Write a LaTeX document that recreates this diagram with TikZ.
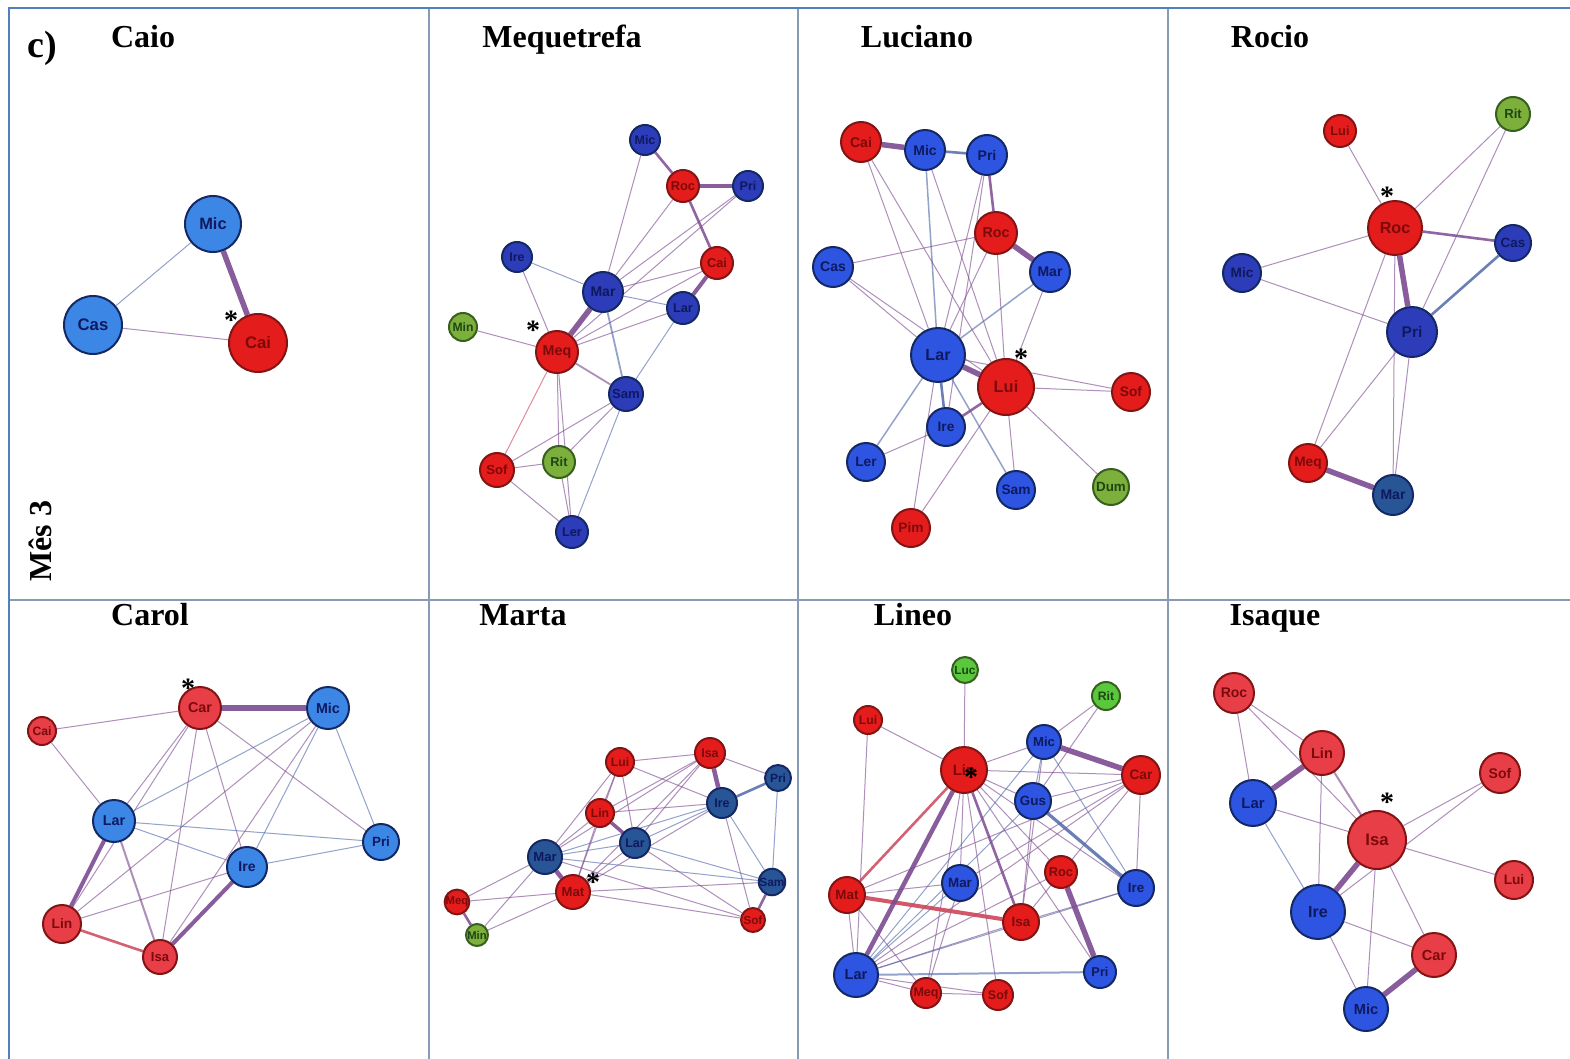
\documentclass[tikz,border=0pt]{standalone}
\usepackage{fontspec}
\setmainfont{Liberation Serif}
\setsansfont{Liberation Sans}

\definecolor{azulclaro}{RGB}{60,135,230}
\definecolor{azulreal}{RGB}{45,60,185}
\definecolor{azulaco}{RGB}{40,85,150}
\definecolor{azulvivo}{RGB}{45,85,225}
\definecolor{azulborda}{RGB}{20,40,100}
\definecolor{azultexto}{RGB}{15,25,95}
\definecolor{vermelho}{RGB}{228,28,28}
\definecolor{vermrosa}{RGB}{232,62,72}
\definecolor{vermborda}{RGB}{130,20,20}
\definecolor{vermtexto}{RGB}{125,10,10}
\definecolor{verdeoliva}{RGB}{125,175,60}
\definecolor{verdevivo}{RGB}{90,200,60}
\definecolor{verdeborda}{RGB}{55,95,30}
\definecolor{verdetexto}{RGB}{30,70,20}
\definecolor{ligroxo}{RGB}{125,75,145}
\definecolor{ligazul}{RGB}{80,105,170}
\definecolor{ligverm}{RGB}{205,70,90}
\definecolor{molduraext}{RGB}{79,129,189}
\definecolor{molduraint}{RGB}{135,155,180}

\pgfdeclarelayer{fundo}
\pgfdeclarelayer{ligacoes}
\pgfsetlayers{fundo,ligacoes,main}

\tikzset{
  pessoa/.style={circle, inner sep=0pt, line width=2pt},
  tam/.code={\pgfmathsetmacro\fsz{8+0.3*#1}%
    \tikzset{minimum size=2*#1pt, font=\sffamily\bfseries\fontsize{\fsz}{\fsz}\selectfont}},
  azul/.style={pessoa, fill=#1, draw=azulborda, text=azultexto},
  azul/.default=azulreal,
  verm/.style={pessoa, fill=#1, draw=vermborda, text=vermtexto},
  verm/.default=vermelho,
  verde/.style={pessoa, fill=#1, draw=verdeborda, text=verdetexto},
  verde/.default=verdeoliva,
  titulo/.style={font=\fontsize{32}{36}\selectfont\bfseries, anchor=base},
  marca/.style={font=\fontsize{28}{28}\selectfont\bfseries, inner sep=0pt, anchor=base},
  lig/.style={line width=1pt, draw opacity=.62},
  lroxo/.style={lig, draw=ligroxo},
  lazul/.style={lig, draw=ligazul},
  lverm/.style={lig, draw=ligverm},
  media/.style={line width=2.6pt, draw opacity=.85},
  forte/.style={line width=5.5pt, draw opacity=.9},
}

\begin{document}
\begin{tikzpicture}[x=1pt, y=-1pt]
  \useasboundingbox (0,0) rectangle (1570,1059);
  \begin{pgfonlayer}{fundo}
    \fill[white] (0,0) rectangle (1570,1059);
  \end{pgfonlayer}

  % Frame
  \draw[molduraint, line width=1.5pt] (429,8) -- (429,1059) (798,8) -- (798,1059) (1168,8) -- (1168,1059);
  \draw[molduraint, line width=1.5pt] (9,600) -- (1570,600);
  \draw[molduraext, line width=2pt] (1570,8) -- (9,8) -- (9,1059);

  % Labels
  \node[titulo, font=\fontsize{38}{40}\selectfont\bfseries] (letra) at (42,58) {c)};
  \node[titulo, rotate=90, anchor=center] (mes) at (40,541) {Mês 3};
  \node[titulo] (t-caio) at (143,48) {Caio};
  \node[titulo] (t-mequetrefa) at (562,48) {Mequetrefa};
  \node[titulo] (t-luciano) at (917,48) {Luciano};
  \node[titulo] (t-rocio) at (1270,48) {Rocio};
  \node[titulo] (t-carol) at (150,625) {Carol};
  \node[titulo] (t-marta) at (523,625) {Marta};
  \node[titulo] (t-lineo) at (913,625) {Lineo};
  \node[titulo] (t-isaque) at (1275,625) {Isaque};

  % Caio
  \node[azul=azulclaro, tam=28] (ca-mic) at (213,224) {Mic};
  \node[azul=azulclaro, tam=29] (ca-cas) at (93,325) {Cas};
  \node[verm, tam=29] (ca-cai) at (258,343) {Cai};
  \node[marca] (ca-ast) at (231,329) {*};
  \begin{pgfonlayer}{ligacoes}
    \draw[lazul] (ca-cas) -- (ca-mic);
    \draw[lroxo] (ca-cas) -- (ca-cai);
    \draw[lroxo, forte] (ca-mic) -- (ca-cai);
  \end{pgfonlayer}

  % Mequetrefa
  \node[azul, tam=15] (mq-mic) at (645,140) {Mic};
  \node[verm, tam=16] (mq-roc) at (683,186) {Roc};
  \node[azul, tam=15] (mq-pri) at (748,186) {Pri};
  \node[azul, tam=15] (mq-ire) at (517,257) {Ire};
  \node[verm, tam=16] (mq-cai) at (717,263) {Cai};
  \node[azul, tam=20] (mq-mar) at (603,292) {Mar};
  \node[azul, tam=16] (mq-lar) at (683,308) {Lar};
  \node[verde, tam=14] (mq-min) at (463,327) {Min};
  \node[verm, tam=21] (mq-meq) at (557,352) {Meq};
  \node[azul, tam=17] (mq-sam) at (626,394) {Sam};
  \node[verde, tam=16] (mq-rit) at (559,462) {Rit};
  \node[verm, tam=17] (mq-sof) at (497,470) {Sof};
  \node[azul, tam=16] (mq-ler) at (572,532) {Ler};
  \node[marca] (mq-ast) at (533,339) {*};
  \begin{pgfonlayer}{ligacoes}
    \foreach \a/\b in {mic/mar, roc/mar, pri/mar, pri/meq, cai/mar, cai/meq, ire/meq, lar/meq, min/meq,
                       meq/rit, sam/sof, sam/rit, sof/rit, sof/ler, rit/ler, meq/ler}
      \draw[lroxo] (mq-\a) -- (mq-\b);
    \foreach \a/\b in {ire/mar, mar/lar, lar/sam, sam/ler}
      \draw[lazul] (mq-\a) -- (mq-\b);
    \draw[lverm] (mq-meq) -- (mq-sof);
    \draw[lazul, line width=1.8pt] (mq-mar) -- (mq-sam);
    \draw[lroxo, line width=1.8pt] (mq-meq) -- (mq-sam);
    \draw[lroxo, media] (mq-mic) -- (mq-roc);
    \draw[lroxo, media] (mq-roc) -- (mq-cai);
    \draw[lroxo, forte, line width=4pt] (mq-roc) -- (mq-pri);
    \draw[lroxo, forte, line width=4pt] (mq-cai) -- (mq-lar);
    \draw[lroxo, forte] (mq-mar) -- (mq-meq);
  \end{pgfonlayer}

  % Luciano
  \node[verm, tam=20] (lu-cai) at (861,142) {Cai};
  \node[azul=azulvivo, tam=20] (lu-mic) at (925,150) {Mic};
  \node[azul=azulvivo, tam=20] (lu-pri) at (987,155) {Pri};
  \node[verm, tam=21] (lu-roc) at (996,233) {Roc};
  \node[azul=azulvivo, tam=20] (lu-cas) at (833,267) {Cas};
  \node[azul=azulvivo, tam=20] (lu-mar) at (1050,272) {Mar};
  \node[azul=azulvivo, tam=27] (lu-lar) at (938,355) {Lar};
  \node[verm, tam=28] (lu-lui) at (1006,387) {Lui};
  \node[verm, tam=19] (lu-sof) at (1131,392) {Sof};
  \node[azul=azulvivo, tam=19] (lu-ire) at (946,427) {Ire};
  \node[azul=azulvivo, tam=19] (lu-ler) at (866,462) {Ler};
  \node[azul=azulvivo, tam=19] (lu-sam) at (1016,490) {Sam};
  \node[verde, tam=18] (lu-dum) at (1111,487) {Dum};
  \node[verm, tam=19] (lu-pim) at (911,528) {Pim};
  \node[marca] (lu-ast) at (1021,367) {*};
  \begin{pgfonlayer}{ligacoes}
    \foreach \a/\b in {cai/lar, cai/lui, mic/lui, pri/lar, pri/ire, roc/cas, roc/lar, roc/lui, cas/lar, cas/lui,
                       mar/lui, lui/sof, lar/sof, lui/sam, lui/dum, lui/pim, ire/ler, lar/pim}
      \draw[lroxo] (lu-\a) -- (lu-\b);
    \foreach \a/\b in {mic/lar, mar/lar, lar/ler, lar/sam}
      \draw[lazul, line width=1.5pt] (lu-\a) -- (lu-\b);
    \draw[lazul, media] (lu-mic) -- (lu-pri);
    \draw[lroxo, media] (lu-pri) -- (lu-roc);
    \draw[lazul, media] (lu-lar) -- (lu-ire);
    \draw[lroxo, media] (lu-lui) -- (lu-ire);
    \draw[lroxo, forte] (lu-cai) -- (lu-mic);
    \draw[lroxo, forte] (lu-roc) -- (lu-mar);
    \draw[lroxo, forte] (lu-lar) -- (lu-lui);
  \end{pgfonlayer}

  % Rocio
  \node[verm, tam=16] (ro-lui) at (1340,131) {Lui};
  \node[verde, tam=17] (ro-rit) at (1513,114) {Rit};
  \node[verm, tam=27] (ro-roc) at (1395,228) {Roc};
  \node[azul, tam=18] (ro-cas) at (1513,243) {Cas};
  \node[azul, tam=19] (ro-mic) at (1242,273) {Mic};
  \node[azul, tam=25] (ro-pri) at (1412,332) {Pri};
  \node[verm, tam=19] (ro-meq) at (1308,463) {Meq};
  \node[azul=azulaco, tam=20] (ro-mar) at (1393,495) {Mar};
  \node[marca] (ro-ast) at (1387,206) {*};
  \begin{pgfonlayer}{ligacoes}
    \foreach \a/\b in {lui/roc, rit/roc, rit/pri, roc/mic, roc/meq, mic/pri, pri/meq, pri/mar, roc/mar}
      \draw[lroxo] (ro-\a) -- (ro-\b);
    \draw[lroxo, media] (ro-roc) -- (ro-cas);
    \draw[lazul, media] (ro-cas) -- (ro-pri);
    \draw[lroxo, forte] (ro-roc) -- (ro-pri);
    \draw[lroxo, forte] (ro-meq) -- (ro-mar);
  \end{pgfonlayer}

  % Carol
  \node[verm=vermrosa, tam=21] (cr-car) at (200,708) {Car};
  \node[azul=azulclaro, tam=21] (cr-mic) at (328,708) {Mic};
  \node[verm=vermrosa, tam=14] (cr-cai) at (42,731) {Cai};
  \node[azul=azulclaro, tam=21] (cr-lar) at (114,821) {Lar};
  \node[azul=azulclaro, tam=18] (cr-pri) at (381,842) {Pri};
  \node[azul=azulclaro, tam=20] (cr-ire) at (247,867) {Ire};
  \node[verm=vermrosa, tam=19] (cr-lin) at (62,924) {Lin};
  \node[verm=vermrosa, tam=17] (cr-isa) at (160,957) {Isa};
  \node[marca] (cr-ast) at (188,697) {*};
  \begin{pgfonlayer}{ligacoes}
    \foreach \a/\b in {cai/car, cai/lar, car/lar, car/lin, car/isa, car/ire, car/pri, mic/lin, mic/isa, lin/ire}
      \draw[lroxo] (cr-\a) -- (cr-\b);
    \foreach \a/\b in {mic/lar, mic/ire, mic/pri, lar/pri, lar/ire, ire/pri}
      \draw[lazul] (cr-\a) -- (cr-\b);
    \draw[lroxo, line width=2pt] (cr-lar) -- (cr-isa);
    \draw[lverm, media] (cr-lin) -- (cr-isa);
    \draw[lroxo, forte, line width=4pt] (cr-lar) -- (cr-lin);
    \draw[lroxo, forte, line width=4pt] (cr-isa) -- (cr-ire);
    \draw[lroxo, forte] (cr-car) -- (cr-mic);
  \end{pgfonlayer}

  % Marta
  \node[verm, tam=14] (mt-lui) at (620,762) {Lui};
  \node[verm, tam=15] (mt-isa) at (710,753) {Isa};
  \node[azul=azulaco, tam=13] (mt-pri) at (778,778) {Pri};
  \node[verm, tam=14] (mt-lin) at (600,813) {Lin};
  \node[azul=azulaco, tam=15] (mt-ire) at (722,803) {Ire};
  \node[azul=azulaco, tam=15] (mt-lar) at (635,843) {Lar};
  \node[azul=azulaco, tam=17] (mt-mar) at (545,857) {Mar};
  \node[verm, tam=17] (mt-mat) at (573,892) {Mat};
  \node[azul=azulaco, tam=13] (mt-sam) at (772,882) {Sam};
  \node[verm, tam=11] (mt-meq) at (457,902) {Meq};
  \node[verm, tam=12] (mt-sof) at (753,920) {Sof};
  \node[verde, tam=11] (mt-min) at (477,935) {Min};
  \node[marca] (mt-ast) at (593,891) {*};
  \begin{pgfonlayer}{ligacoes}
    \foreach \a/\b in {lui/isa, lui/ire, lui/lin, lui/lar, lui/mar, lui/mat, isa/pri, isa/lin, isa/lar, isa/mar,
                       isa/mat, lin/mar, lin/mat, lin/ire, ire/mat, ire/sof, lar/mat, lar/sof, mar/meq,
                       mar/min, mat/meq, mat/min, mat/sam, mat/sof, mar/sof}
      \draw[lroxo] (mt-\a) -- (mt-\b);
    \foreach \a/\b in {ire/lar, ire/mar, ire/sam, lar/mar, lar/sam, pri/sam, mar/sam}
      \draw[lazul] (mt-\a) -- (mt-\b);
    \draw[lazul, media] (mt-pri) -- (mt-ire);
    \draw[lroxo, media] (mt-sam) -- (mt-sof);
    \draw[lroxo, media] (mt-meq) -- (mt-min);
    \draw[lroxo, forte, line width=3.5pt] (mt-lin) -- (mt-lar);
    \draw[lroxo, forte, line width=4.5pt] (mt-isa) -- (mt-ire);
    \draw[lroxo, forte, line width=4.5pt] (mt-mar) -- (mt-mat);
  \end{pgfonlayer}

  % Lineo
  \node[verde=verdevivo, tam=13] (ln-luc) at (965,670) {Luc};
  \node[verde=verdevivo, tam=14] (ln-rit) at (1106,696) {Rit};
  \node[verm, tam=14] (ln-lui) at (868,720) {Lui};
  \node[azul=azulvivo, tam=17] (ln-mic) at (1044,742) {Mic};
  \node[verm, tam=23] (ln-lin) at (964,770) {Lin};
  \node[verm, tam=19] (ln-car) at (1141,775) {Car};
  \node[azul=azulvivo, tam=18] (ln-gus) at (1033,801) {Gus};
  \node[verm, tam=16] (ln-roc) at (1061,872) {Roc};
  \node[azul=azulvivo, tam=18] (ln-mar) at (960,883) {Mar};
  \node[verm, tam=18] (ln-mat) at (847,895) {Mat};
  \node[azul=azulvivo, tam=18] (ln-ire) at (1136,888) {Ire};
  \node[verm, tam=18] (ln-isa) at (1021,922) {Isa};
  \node[azul=azulvivo, tam=22] (ln-lar) at (856,975) {Lar};
  \node[azul=azulvivo, tam=16] (ln-pri) at (1100,972) {Pri};
  \node[verm, tam=15] (ln-meq) at (926,993) {Meq};
  \node[verm, tam=15] (ln-sof) at (998,995) {Sof};
  \node[marca] (ln-ast) at (971,786) {*};
  \begin{pgfonlayer}{ligacoes}
    \foreach \a/\b in {luc/lin, lui/lin, lui/lar, lin/mic, lin/car, lin/mar, lin/meq, lin/sof, lin/roc, lin/pri,
                       lin/ire, lin/gus, mic/isa, mic/rit, car/gus, car/ire, car/lar, car/mat, car/mar, car/isa,
                       rit/gus, gus/isa, roc/lar, mat/lar, mat/meq, mat/mar, mar/meq, isa/lar, lar/meq,
                       meq/sof, ire/isa, lar/sof}
      \draw[lroxo] (ln-\a) -- (ln-\b);
    \foreach \a/\b in {mic/lar, mic/gus, mic/ire, gus/lar, mar/lar, ire/lar}
      \draw[lazul] (ln-\a) -- (ln-\b);
    \draw[lazul, line width=2pt] (ln-lar) -- (ln-pri);
    \draw[lverm, media] (ln-lin) -- (ln-mat);
    \draw[lroxo, media] (ln-lin) -- (ln-isa);
    \draw[lazul, media, line width=3.2pt] (ln-gus) -- (ln-ire);
    \draw[lverm, forte, line width=4pt] (ln-mat) -- (ln-isa);
    \draw[lroxo, forte, line width=4.5pt] (ln-lin) -- (ln-lar);
    \draw[lroxo, forte] (ln-mic) -- (ln-car);
    \draw[lroxo, forte] (ln-roc) -- (ln-pri);
  \end{pgfonlayer}

  % Isaque
  \node[verm=vermrosa, tam=20] (is-roc) at (1234,693) {Roc};
  \node[verm=vermrosa, tam=22] (is-lin) at (1322,753) {Lin};
  \node[verm=vermrosa, tam=20] (is-sof) at (1500,773) {Sof};
  \node[azul=azulvivo, tam=23] (is-lar) at (1253,803) {Lar};
  \node[verm=vermrosa, tam=29] (is-isa) at (1377,840) {Isa};
  \node[verm=vermrosa, tam=19] (is-lui) at (1514,880) {Lui};
  \node[azul=azulvivo, tam=27] (is-ire) at (1318,912) {Ire};
  \node[verm=vermrosa, tam=22] (is-car) at (1434,955) {Car};
  \node[azul=azulvivo, tam=22] (is-mic) at (1366,1009) {Mic};
  \node[marca] (is-ast) at (1387,811) {*};
  \begin{pgfonlayer}{ligacoes}
    \foreach \a/\b in {roc/lin, roc/lar, roc/isa, lin/ire, lar/isa, isa/sof, isa/lui, isa/car, isa/mic,
                       ire/car, ire/mic, ire/sof}
      \draw[lroxo] (is-\a) -- (is-\b);
    \draw[lazul] (is-lar) -- (is-ire);
    \draw[lroxo, line width=2pt] (is-lin) -- (is-isa);
    \draw[lroxo, forte] (is-lin) -- (is-lar);
    \draw[lroxo, forte] (is-isa) -- (is-ire);
    \draw[lroxo, forte] (is-car) -- (is-mic);
  \end{pgfonlayer}
\end{tikzpicture}
\end{document}
